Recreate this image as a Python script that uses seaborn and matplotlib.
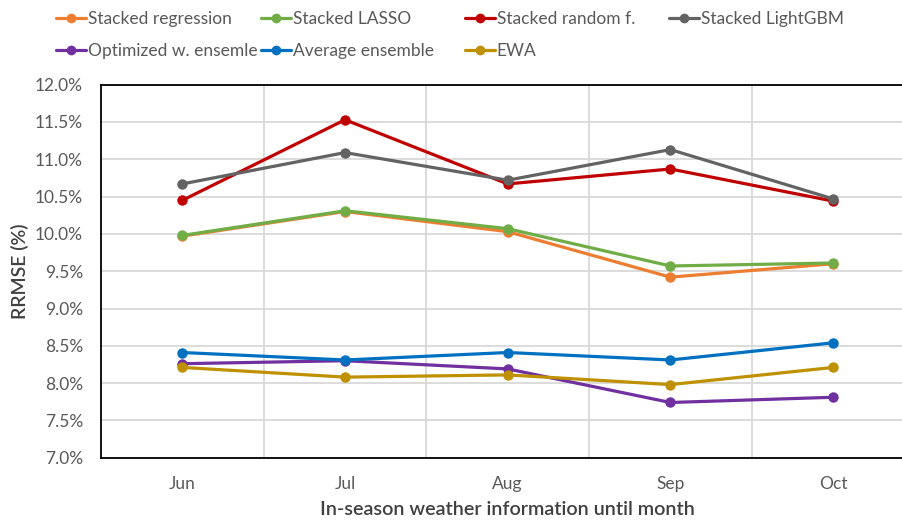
import matplotlib
matplotlib.use("Agg")
import matplotlib.pyplot as plt
from matplotlib.lines import Line2D
from matplotlib.ticker import FuncFormatter, MultipleLocator
import seaborn as sns
import pandas as pd

months = ["Jun", "Jul", "Aug", "Sep", "Oct"]
models = ["Stacked regression", "Stacked LASSO", "Stacked random f.", "Stacked LightGBM",
          "Optimized w. ensemle", "Average ensemble", "EWA"]
stacked_regression = [9.97, 10.30, 10.03, 9.42, 9.60]
stacked_lasso = [9.98, 10.31, 10.07, 9.57, 9.61]
stacked_random_f = [10.45, 11.53, 10.67, 10.87, 10.44]
stacked_lightgbm = [10.67, 11.09, 10.72, 11.13, 10.47]
optimized_w_ensemble = [8.26, 8.30, 8.19, 7.74, 7.81]
average_ensemble = [8.41, 8.31, 8.41, 8.31, 8.54]
ewa = [8.21, 8.08, 8.11, 7.98, 8.21]
colors = ["#ED7D31", "#70AD47", "#C00000", "#636363", "#7030A0", "#0070C0", "#BF9000"]

series = [stacked_regression, stacked_lasso, stacked_random_f, stacked_lightgbm,
          optimized_w_ensemble, average_ensemble, ewa]
rows = []
for name, vals in zip(models, series):
    for m, v in zip(months, vals):
        rows.append({"month": m, "rrmse": v, "model": name})
df = pd.DataFrame(rows)

sns.set_style("white")
plt.rcParams["font.family"] = ["Lato", "DejaVu Sans"]

fig = plt.figure(figsize=(9.03, 5.21), dpi=100)
ax = fig.add_axes([101 / 903, 1 - 457.7 / 521, (914.4 - 101) / 903, (457.7 - 84.7) / 521])

sns.lineplot(data=df, x="month", y="rrmse", hue="model", hue_order=models,
             palette=dict(zip(models, colors)), marker="o", markersize=7.5,
             markeredgewidth=0, linewidth=2.3, sort=False, legend=False, ax=ax, zorder=3)

ax.set_xlim(-0.5, 4.5)
ax.set_ylim(7.0, 12.0)
ax.yaxis.set_major_locator(MultipleLocator(0.5))
ax.yaxis.set_major_formatter(FuncFormatter(lambda v, p: f"{v:.1f}%"))
ax.set_xticks(range(len(months)))
ax.set_xticklabels(months)
for xv in [0.5, 1.5, 2.5, 3.5]:
    ax.axvline(xv, color="#D9D9D9", linewidth=1.3, zorder=1)
ax.grid(axis="y", color="#D9D9D9", linewidth=1.3, zorder=1)
ax.set_axisbelow(True)
ax.tick_params(axis="both", length=0, labelsize=12.5, colors="#595959")
ax.tick_params(axis="y", pad=13)
ax.tick_params(axis="x", pad=13)
for s in ["left", "top", "bottom"]:
    ax.spines[s].set_color("#000000")
    ax.spines[s].set_linewidth(1.3)
ax.spines["right"].set_visible(False)

ax.set_xlabel("In-season weather information until month", fontsize=14.2,
              color="#404040", fontweight="semibold", labelpad=7)
ax.set_ylabel("RRMSE (%)", fontsize=14, color="#404040", fontweight="semibold", labelpad=4)

# legend: four columns, two rows
cols_x = [56, 261, 465, 669]
for ci, x0 in enumerate(cols_x):
    idx = [i for i in (ci, ci + 4) if i < len(models)]
    handles = [Line2D([0], [0], color=colors[i], linewidth=2.3, marker="o",
                      markersize=7, markeredgewidth=0) for i in idx]
    labels = [models[i] for i in idx]
    leg = fig.legend(handles, labels, loc="upper left", bbox_to_anchor=(x0 / 903, 1 - 11 / 521),
                     frameon=False, fontsize=12.5, handlelength=1.7, handletextpad=0.12,
                     labelspacing=0.95, borderaxespad=0, borderpad=0)
    for t in leg.get_texts():
        t.set_color("#595959")

fig.savefig("out.png", dpi=100)
